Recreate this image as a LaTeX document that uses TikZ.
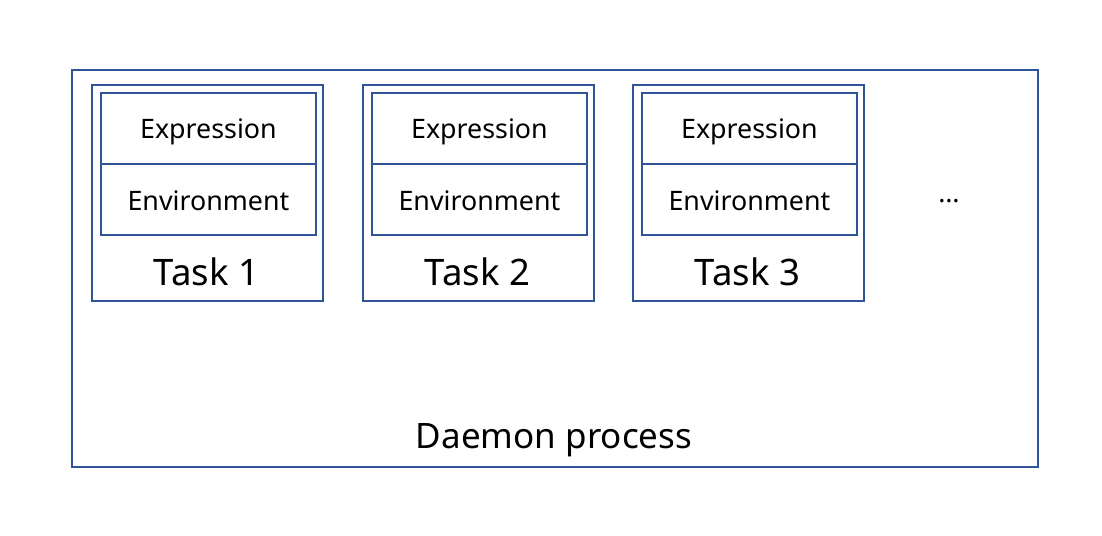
\documentclass[tikz,border=0pt]{standalone}
\usepackage{fontspec}
\setmainfont{Noto Sans}
\definecolor{boxblue}{HTML}{2F5597}
\begin{document}
\begin{tikzpicture}[x=1pt,y=-1pt,
  box/.style={draw=boxblue,line width=1.8pt,inner sep=0pt,anchor=north west},
  small/.style={font=\fontsize{26.8}{32}\selectfont},
  big/.style={font=\fontsize{36.5}{44}\selectfont},
  mid/.style={font=\fontsize{35}{42}\selectfont}]
\useasboundingbox (0,0) rectangle (1102,535);
\node[box,minimum width=966pt,minimum height=397pt] (daemon) at (71,69) {};
\node[mid] (dlabel) at (554,440) {Daemon process};
\foreach \i/\x in {1/91,2/362,3/632}{
  \node[box,minimum width=231pt,minimum height=216pt] (task\i) at (\x,84) {};
  \node[box,minimum width=215pt,minimum height=71pt] (expr\i) at (\x+9,92) {};
  \node[box,minimum width=215pt,minimum height=71pt] (env\i) at (\x+9,163) {};
  \node[small] (exprt\i) at ([yshift=-3pt]expr\i.center) {Expression};
  \node[small] (envt\i) at ([yshift=-1.5pt]env\i.center) {Environment};
  \node[big] (tlabel\i) at (\x+115.5,272) {Task \i};
}
\node[small] (dots) at (949,201) {\dots};
\end{tikzpicture}
\end{document}
